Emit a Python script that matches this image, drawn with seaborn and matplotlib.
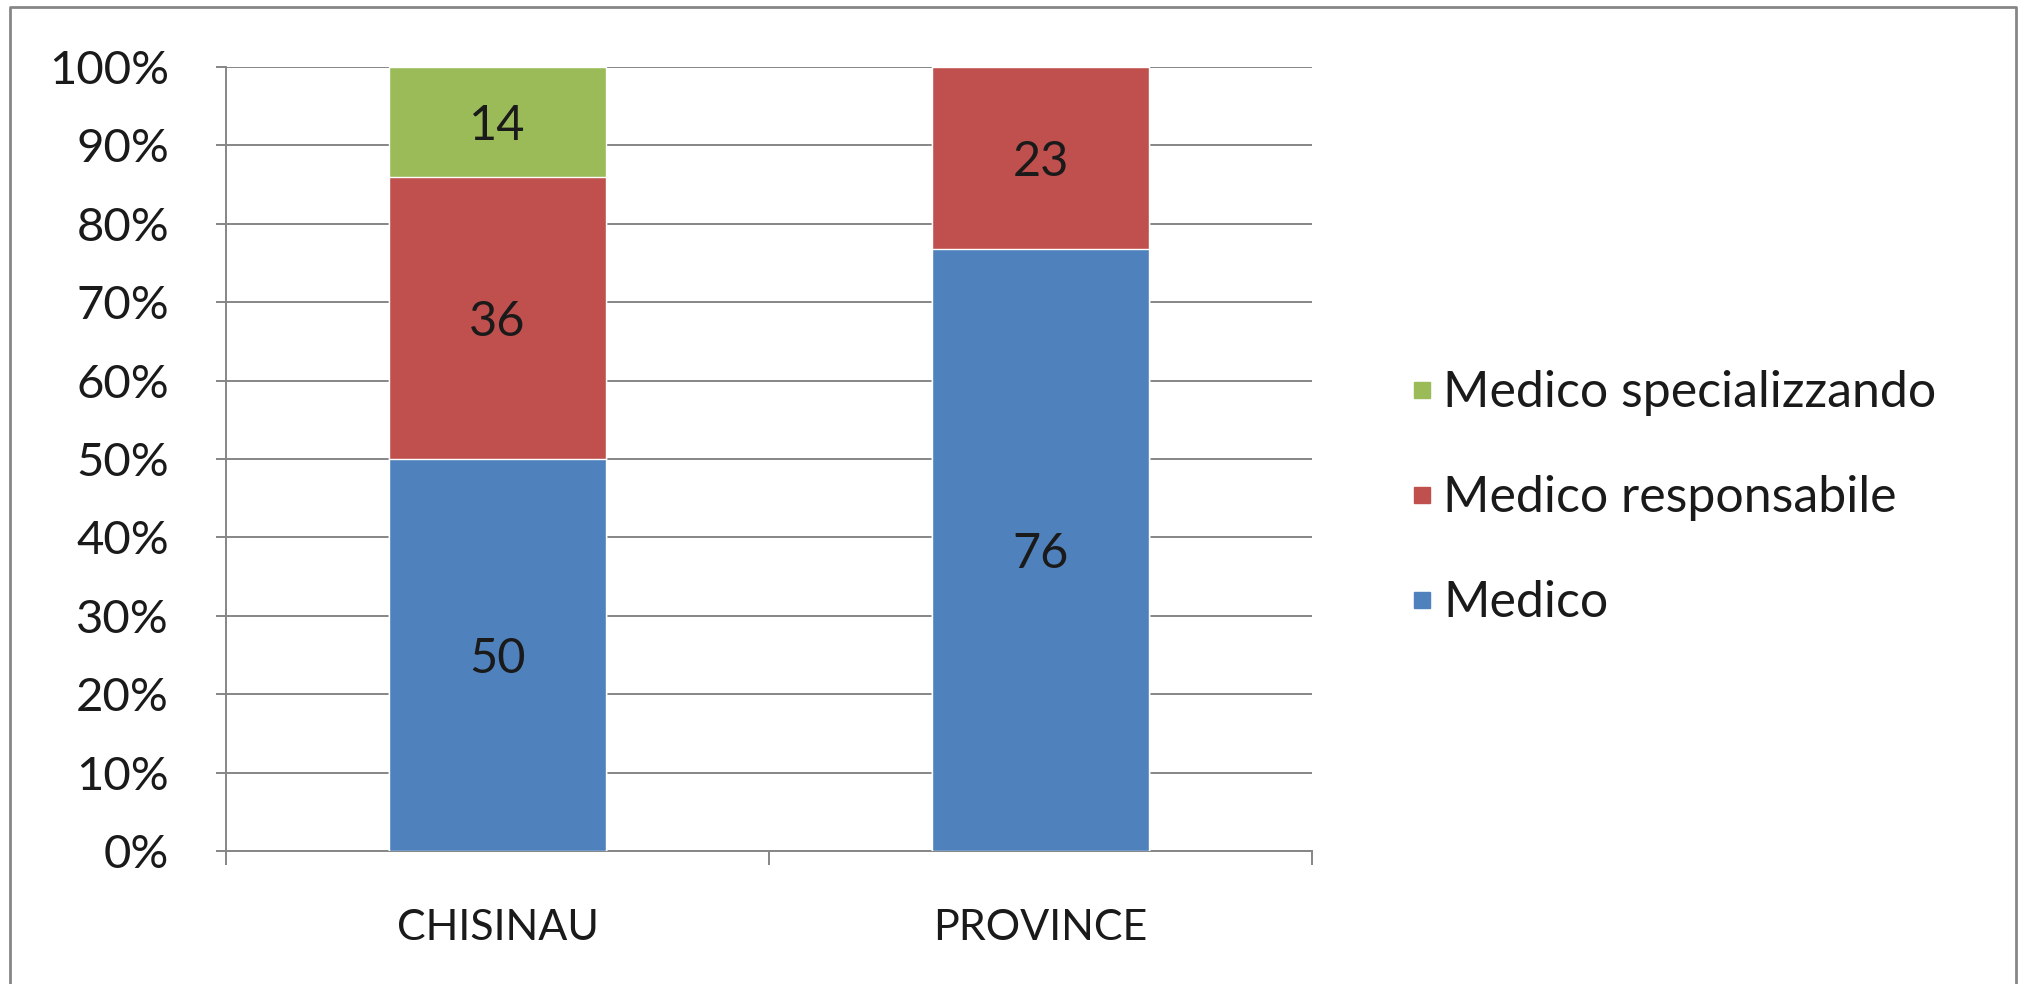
import matplotlib
matplotlib.use("Agg")
import matplotlib.pyplot as plt
import matplotlib.ticker as mticker
from matplotlib.lines import Line2D
import pandas as pd
import seaborn as sns

# data (counts per category)
categories = ["CHISINAU", "PROVINCE"]
series = ["Medico", "Medico responsabile", "Medico specializzando"]
medico = [50, 76]
medico_responsabile = [36, 23]
medico_specializzando = [14, 0]
colors = ["#4F81BD", "#C0504D", "#9BBB59"]

GRAY = "#868686"
TEXT = "#1a1a1a"
FONT = ["Lato", "DejaVu Sans"]


def main():
    sns.set_theme(style="white")
    plt.rcParams["font.family"] = FONT

    values = [medico, medico_responsabile, medico_specializzando]
    rows = []
    for s, vals in zip(series, values):
        for c, v in zip(categories, vals):
            rows.append({"categoria": c, "serie": s, "n": v})
    df = pd.DataFrame(rows)
    df["serie"] = pd.Categorical(df["serie"], series, ordered=True)
    df = df.sort_values(["categoria", "serie"])
    df["tot"] = df.groupby("categoria")["n"].transform("sum")
    df["pct"] = df["n"] / df["tot"] * 100
    df["cum"] = df.groupby("categoria")["pct"].cumsum()
    df["mid"] = df["cum"] - df["pct"] / 2

    fig = plt.figure(figsize=(20.27, 9.84), dpi=100)
    ax = fig.add_axes([226 / 2027, 1 - 851 / 984, (1312 - 226) / 2027, (851 - 67) / 984])

    # stacked bars: draw cumulative layers from the top down
    for s, col in reversed(list(zip(series, colors))):
        sub = df[df["serie"] == s]
        sns.barplot(data=sub, x="categoria", y="cum", order=categories, color=col,
                    width=0.4, saturation=1, ax=ax, zorder=3)

    for _, r in df.iterrows():
        if r["n"] > 0:
            ax.text(categories.index(r["categoria"]), r["mid"], str(int(r["n"])),
                    ha="center", va="center_baseline", fontsize=35, color=TEXT, zorder=4)

    ax.set_xlim(-0.5, 1.5)
    ax.set_ylim(0, 100)
    ax.set_xlabel("")
    ax.set_ylabel("")
    ax.yaxis.set_major_locator(mticker.MultipleLocator(10))
    ax.yaxis.set_major_formatter(mticker.FuncFormatter(lambda v, p: f"{v:.0f}%"))
    ax.grid(axis="y", color=GRAY, linewidth=1.4, zorder=0)
    ax.set_axisbelow(True)

    for side in ["top", "right"]:
        ax.spines[side].set_visible(False)
    for side in ["left", "bottom"]:
        ax.spines[side].set_color(GRAY)
        ax.spines[side].set_linewidth(1.4)

    ax.tick_params(axis="y", left=True, length=7, width=1.4, color=GRAY,
                   labelsize=34, labelcolor=TEXT, pad=34)
    ax.set_xticks([-0.5, 0.5, 1.5], minor=True)
    ax.tick_params(axis="x", which="minor", bottom=True, length=10, width=1.4, color=GRAY)
    ax.tick_params(axis="x", which="major", bottom=False, length=0,
                   labelsize=31, labelcolor=TEXT, pad=42)

    handles = [Line2D([], [], marker="s", linestyle="", markersize=11.5,
                      markerfacecolor=c, markeredgecolor=c) for c in colors]
    fig.legend(handles[::-1], series[::-1], loc="center left",
               bbox_to_anchor=(1413 / 2027, 1 - 498 / 984), frameon=False,
               fontsize=36, handlelength=0.35, handletextpad=0.25, labelspacing=1.18,
               borderpad=0, borderaxespad=0, labelcolor=TEXT)

    # chart frame (cropped at the bottom in the original)
    x0, x1, y1 = 10 / 2027, 2016 / 2027, 1 - 7 / 984
    fig.add_artist(Line2D([x0, x0, x1, x1], [0, y1, y1, 0], transform=fig.transFigure,
                          color=GRAY, linewidth=2))

    fig.savefig("out.png", dpi=100, facecolor="white")


if __name__ == "__main__":
    main()
